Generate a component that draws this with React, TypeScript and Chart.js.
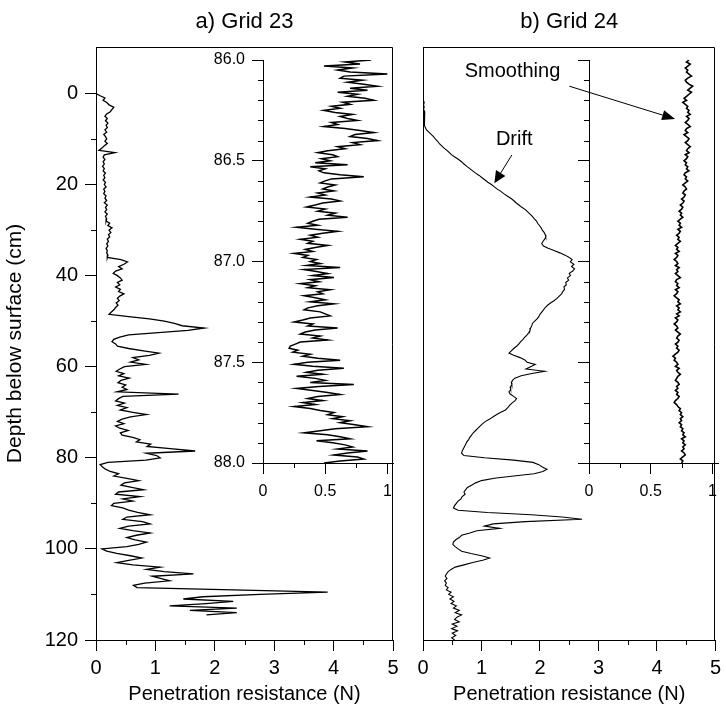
import React, { useEffect, useRef } from 'react';
import { Chart, registerables } from 'chart.js';

Chart.register(...registerables);

const W = 726;
const H = 707;
const FONT = "'Liberation Sans', Arial, Helvetica, sans-serif";

// Depth (cm) sampling of the main profiles
const depthMain = [
  0, 0.5, 1, 1.5, 2, 2.5, 3, 3.5, 4, 4.5, 5, 5.5, 6, 6.5, 7, 7.5, 8, 8.5, 9, 9.5,
  10, 10.5, 11, 11.5, 12, 12.5, 13, 13.5, 14, 14.5, 15, 15.5, 16, 16.5, 17, 17.5, 18, 18.5, 19, 19.5,
  20, 20.5, 21, 21.5, 22, 22.5, 23, 23.5, 24, 24.5, 25, 25.5, 26, 26.5, 27, 27.5, 28, 28.5, 29, 29.5,
  30, 30.5, 31, 31.5, 32, 32.5, 33, 33.5, 34, 34.5, 35, 35.5, 36, 36.5, 37, 37.5, 38, 38.5, 39, 39.5,
  40, 40.5, 41, 41.5, 42, 42.5, 43, 43.5, 44, 44.5, 45, 45.5, 46, 46.5, 47, 47.5, 48, 48.5, 49, 49.5,
  50, 50.5, 51, 51.5, 52, 52.5, 53, 53.5, 54, 54.5, 55, 55.5, 56, 56.5, 57, 57.5, 58, 58.5, 59, 59.5,
  60, 60.5, 61, 61.5, 62, 62.5, 63, 63.5, 64, 64.5, 65, 65.5, 66, 66.5, 67, 67.5, 68, 68.5, 69, 69.5,
  70, 70.5, 71, 71.5, 72, 72.5, 73, 73.5, 74, 74.5, 75, 75.5, 76, 76.5, 77, 77.5, 78, 78.5, 79, 79.5,
  80, 80.5, 81, 81.5, 82, 82.5, 83, 83.5, 84, 84.5, 85, 85.5, 86, 86.5, 87, 87.5, 88, 88.5, 89, 89.5,
  90, 90.5, 91, 91.5, 92, 92.5, 93, 93.5, 94, 94.5, 95, 95.5, 96, 96.5, 97, 97.5, 98, 98.5, 99, 99.5,
  100, 100.5, 101, 101.5, 102, 102.5, 103, 103.5, 104, 104.5, 105, 105.5, 106, 106.5, 107, 107.5, 108, 108.5, 109, 109.5,
  110, 110.5, 111, 111.5, 112, 112.5, 113, 113.5, 114, 114.5, 115, 115.5, 116, 116.5, 117, 117.5, 118, 118.5, 119, 119.5,
  120,
];

// a) Grid 23 penetration resistance (N)
const grid23Main = [
  0.00, 0.07, 0.15, 0.12, 0.18, 0.22, 0.30, 0.27, 0.24, 0.18, 0.15, 0.19, 0.16, 0.20, 0.17, 0.19, 0.15, 0.18, 0.13, 0.16,
  0.18, 0.15, 0.19, 0.14, 0.10, 0.05, 0.32, 0.14, 0.12, 0.15, 0.12, 0.14, 0.11, 0.14, 0.12, 0.16, 0.13, 0.15, 0.12, 0.16,
  0.14, 0.17, 0.13, 0.15, 0.13, 0.17, 0.15, 0.18, 0.14, 0.19, 0.16, 0.18, 0.15, 0.19, 0.16, 0.18, 0.17, 0.23, 0.20, 0.27,
  0.22, 0.25, 0.21, 0.23, 0.19, 0.21, 0.18, 0.20, 0.17, 0.19, 0.18, 0.20, 0.19, 0.42, 0.53, 0.47, 0.38, 0.44, 0.33, 0.29,
  0.36, 0.41, 0.44, 0.36, 0.40, 0.33, 0.41, 0.38, 0.47, 0.40, 0.36, 0.39, 0.34, 0.37, 0.33, 0.30, 0.26, 0.22, 0.55, 0.90,
  1.15, 1.32, 1.45, 1.82, 1.55, 1.05, 0.55, 0.40, 0.30, 0.27, 0.33, 0.36, 0.55, 0.80, 1.06, 0.90, 0.62, 0.72, 0.58, 0.84,
  0.48, 0.40, 0.34, 0.47, 0.38, 0.56, 0.42, 0.37, 0.50, 0.44, 0.52, 0.36, 1.39, 0.45, 0.38, 0.33, 0.48, 0.36, 0.52, 0.41,
  0.62, 0.85, 0.58, 0.44, 0.36, 0.47, 0.33, 0.40, 0.54, 0.41, 0.44, 0.62, 0.74, 0.68, 0.92, 0.86, 1.25, 1.67, 0.85, 1.02,
  1.08, 0.84, 0.20, 0.07, 0.11, 0.16, 0.24, 0.38, 0.30, 0.52, 0.72, 0.48, 0.42, 0.60, 0.80, 0.38, 0.33, 0.74, 0.45, 0.62,
  0.30, 0.26, 0.45, 0.55, 0.70, 0.91, 0.52, 0.45, 0.78, 0.91, 0.55, 0.40, 0.62, 0.91, 0.68, 0.52, 0.66, 0.85, 0.72, 0.52,
  0.10, 0.18, 0.35, 0.58, 0.77, 0.55, 0.35, 0.62, 1.08, 0.85, 1.15, 1.64, 0.95, 1.10, 1.24, 0.82, 0.63, 0.69, 2.31, 3.90,
  2.76, 1.80, 1.47, 2.31, 1.85, 1.24, 2.37, 1.58, 2.37, 1.86,
];

// b) Grid 24 penetration resistance (N) with drift
const grid24Main = [
  0.00, 0.01, 0.00, 0.01, 0.02, 0.01, 0.02, 0.01, 0.03, 0.02, 0.03, 0.02, 0.03, 0.02, 0.03, 0.04, 0.06, 0.10, 0.14, 0.18,
  0.21, 0.25, 0.28, 0.32, 0.36, 0.41, 0.45, 0.49, 0.55, 0.61, 0.66, 0.70, 0.75, 0.80, 0.85, 0.90, 0.96, 1.01, 1.06, 1.11,
  1.17, 1.22, 1.27, 1.33, 1.38, 1.44, 1.50, 1.55, 1.59, 1.64, 1.69, 1.75, 1.79, 1.83, 1.87, 1.90, 1.94, 1.96, 1.99, 2.02,
  2.04, 2.07, 2.09, 2.10, 2.08, 2.05, 2.03, 2.06, 2.14, 2.24, 2.34, 2.43, 2.50, 2.55, 2.52, 2.58, 2.54, 2.59, 2.56, 2.50,
  2.52, 2.47, 2.49, 2.44, 2.45, 2.41, 2.42, 2.39, 2.37, 2.33, 2.29, 2.24, 2.18, 2.13, 2.09, 2.06, 2.03, 2.00, 1.98, 1.95,
  1.91, 1.87, 1.86, 1.84, 1.83, 1.81, 1.78, 1.74, 1.71, 1.67, 1.64, 1.60, 1.55, 1.51, 1.47, 1.55, 1.66, 1.74, 1.78, 1.92,
  1.84, 1.76, 2.08, 1.86, 1.68, 1.57, 1.53, 1.51, 1.52, 1.49, 1.50, 1.47, 1.49, 1.55, 1.60, 1.57, 1.52, 1.48, 1.45, 1.41,
  1.33, 1.26, 1.20, 1.14, 1.07, 1.02, 0.98, 0.94, 0.90, 0.86, 0.83, 0.80, 0.78, 0.75, 0.73, 0.71, 0.69, 0.67, 0.66, 0.70,
  1.05, 1.55, 1.88, 1.98, 2.04, 2.12, 2.05, 1.90, 1.55, 1.22, 1.00, 0.90, 0.83, 0.76, 0.73, 0.70, 0.72, 0.67, 0.65, 0.60,
  0.57, 0.54, 0.52, 0.60, 1.10, 1.85, 2.38, 2.72, 1.75, 1.20, 1.05, 1.31, 0.92, 0.80, 0.66, 0.62, 0.56, 0.52, 0.51, 0.55,
  0.60, 0.66, 0.82, 1.00, 1.14, 1.02, 0.85, 0.70, 0.55, 0.48, 0.43, 0.40, 0.38, 0.41, 0.37, 0.40, 0.38, 0.43, 0.40, 0.48,
  0.44, 0.52, 0.46, 0.53, 0.48, 0.57, 0.52, 0.62, 0.55, 0.66, 0.58, 0.54, 0.62, 0.50, 0.58, 0.49, 0.59, 0.50, 0.56, 0.49,
  0.54,
];

// Depth sampling of the 86-88 cm insets
const depthInset = [
  86.00, 86.01, 86.02, 86.03, 86.04, 86.05, 86.06, 86.07, 86.08, 86.09,
  86.10, 86.11, 86.12, 86.13, 86.14, 86.15, 86.16, 86.17, 86.18, 86.19,
  86.20, 86.21, 86.22, 86.23, 86.24, 86.25, 86.26, 86.27, 86.28, 86.29,
  86.30, 86.31, 86.32, 86.33, 86.34, 86.35, 86.36, 86.37, 86.38, 86.39,
  86.40, 86.41, 86.42, 86.43, 86.44, 86.45, 86.46, 86.47, 86.48, 86.49,
  86.50, 86.51, 86.52, 86.53, 86.54, 86.55, 86.56, 86.57, 86.58, 86.59,
  86.60, 86.61, 86.62, 86.63, 86.64, 86.65, 86.66, 86.67, 86.68, 86.69,
  86.70, 86.71, 86.72, 86.73, 86.74, 86.75, 86.76, 86.77, 86.78, 86.79,
  86.80, 86.81, 86.82, 86.83, 86.84, 86.85, 86.86, 86.87, 86.88, 86.89,
  86.90, 86.91, 86.92, 86.93, 86.94, 86.95, 86.96, 86.97, 86.98, 86.99,
  87.00, 87.01, 87.02, 87.03, 87.04, 87.05, 87.06, 87.07, 87.08, 87.09,
  87.10, 87.11, 87.12, 87.13, 87.14, 87.15, 87.16, 87.17, 87.18, 87.19,
  87.20, 87.21, 87.22, 87.23, 87.24, 87.25, 87.26, 87.27, 87.28, 87.29,
  87.30, 87.31, 87.32, 87.33, 87.34, 87.35, 87.36, 87.37, 87.38, 87.39,
  87.40, 87.41, 87.42, 87.43, 87.44, 87.45, 87.46, 87.47, 87.48, 87.49,
  87.50, 87.51, 87.52, 87.53, 87.54, 87.55, 87.56, 87.57, 87.58, 87.59,
  87.60, 87.61, 87.62, 87.63, 87.64, 87.65, 87.66, 87.67, 87.68, 87.69,
  87.70, 87.71, 87.72, 87.73, 87.74, 87.75, 87.76, 87.77, 87.78, 87.79,
  87.80, 87.81, 87.82, 87.83, 87.84, 87.85, 87.86, 87.87, 87.88, 87.89,
  87.90, 87.91, 87.92, 87.93, 87.94, 87.95, 87.96, 87.97, 87.98, 87.99,
  88.00,
];

const grid23Inset = [
  0.87, 0.66, 0.78, 0.49, 0.72, 0.60, 0.70, 1.00, 0.65, 0.62,
  0.80, 0.68, 0.81, 0.92, 0.70, 0.84, 0.60, 0.76, 0.68, 0.82,
  0.89, 0.64, 0.70, 0.55, 0.62, 0.49, 0.58, 0.72, 0.62, 0.68,
  0.76, 0.55, 0.60, 0.49, 0.66, 0.78, 0.89, 0.74, 0.70, 0.84,
  0.92, 0.72, 0.78, 0.60, 0.66, 0.52, 0.44, 0.56, 0.60, 0.47,
  0.54, 0.42, 0.68, 0.38, 0.50, 0.45, 0.49, 0.62, 0.81, 0.55,
  0.50, 0.46, 0.58, 0.52, 0.48, 0.57, 0.44, 0.50, 0.38, 0.55,
  0.62, 0.48, 0.42, 0.35, 0.50, 0.44, 0.58, 0.52, 0.68, 0.45,
  0.40, 0.36, 0.44, 0.27, 0.42, 0.60, 0.48, 0.38, 0.44, 0.30,
  0.40, 0.36, 0.52, 0.42, 0.34, 0.40, 0.25, 0.36, 0.32, 0.43,
  0.38, 0.46, 0.35, 0.62, 0.33, 0.43, 0.52, 0.40, 0.57, 0.38,
  0.45, 0.30, 0.42, 0.36, 0.54, 0.44, 0.48, 0.33, 0.42, 0.50,
  0.38, 0.57, 0.44, 0.36, 0.33, 0.46, 0.50, 0.54, 0.38, 0.32,
  0.25, 0.40, 0.36, 0.60, 0.42, 0.34, 0.30, 0.46, 0.40, 0.52,
  0.30, 0.26, 0.22, 0.21, 0.28, 0.24, 0.38, 0.32, 0.44, 0.62,
  0.36, 0.25, 0.40, 0.65, 0.44, 0.35, 0.48, 0.27, 0.42, 0.50,
  0.38, 0.73, 0.45, 0.27, 0.40, 0.52, 0.62, 0.44, 0.36, 0.48,
  0.32, 0.42, 0.25, 0.38, 0.46, 0.57, 0.52, 0.64, 0.56, 0.70,
  0.62, 0.74, 0.84, 0.58, 0.46, 0.33, 0.52, 0.62, 0.70, 0.43,
  0.56, 0.66, 0.72, 0.60, 0.84, 0.68, 0.57, 0.76, 0.81, 0.62,
  0.49,
];

const grid24Inset = [
  0.81, 0.79, 0.82, 0.80, 0.78, 0.80, 0.79, 0.81, 0.83, 0.80,
  0.78, 0.79, 0.81, 0.84, 0.82, 0.80, 0.83, 0.81, 0.79, 0.77,
  0.79, 0.76, 0.78, 0.80, 0.79, 0.81, 0.80, 0.82, 0.79, 0.81,
  0.80, 0.78, 0.80, 0.82, 0.79, 0.78, 0.80, 0.77, 0.79, 0.81,
  0.80, 0.78, 0.80, 0.82, 0.80, 0.79, 0.81, 0.78, 0.80, 0.79,
  0.77, 0.79, 0.78, 0.80, 0.79, 0.81, 0.78, 0.77, 0.79, 0.78,
  0.80, 0.78, 0.76, 0.78, 0.79, 0.77, 0.76, 0.78, 0.77, 0.75,
  0.77, 0.76, 0.74, 0.76, 0.75, 0.73, 0.75, 0.74, 0.76, 0.74,
  0.72, 0.74, 0.73, 0.75, 0.72, 0.74, 0.73, 0.71, 0.73, 0.72,
  0.74, 0.72, 0.70, 0.72, 0.71, 0.73, 0.70, 0.72, 0.71, 0.69,
  0.71, 0.72, 0.70, 0.73, 0.71, 0.72, 0.70, 0.72, 0.74, 0.71,
  0.70, 0.72, 0.71, 0.73, 0.70, 0.72, 0.71, 0.69, 0.71, 0.73,
  0.72, 0.74, 0.71, 0.73, 0.72, 0.74, 0.71, 0.73, 0.70, 0.72,
  0.71, 0.69, 0.71, 0.72, 0.70, 0.72, 0.74, 0.72, 0.71, 0.73,
  0.72, 0.70, 0.72, 0.71, 0.73, 0.72, 0.70, 0.68, 0.70, 0.69,
  0.71, 0.72, 0.70, 0.73, 0.71, 0.72, 0.74, 0.72, 0.71, 0.70,
  0.72, 0.73, 0.71, 0.72, 0.70, 0.72, 0.71, 0.73, 0.72, 0.70,
  0.69, 0.71, 0.72, 0.74, 0.73, 0.75, 0.74, 0.76, 0.74, 0.75,
  0.73, 0.75, 0.74, 0.76, 0.75, 0.77, 0.76, 0.78, 0.75, 0.77,
  0.76, 0.78, 0.76, 0.77, 0.75, 0.77, 0.78, 0.76, 0.74, 0.76,
  0.75,
];

// Tick values
const xMajorMain = [0, 1, 2, 3, 4, 5];
const xMinorMain = [0.5, 1.5, 2.5, 3.5, 4.5];
const yMajorMain = [0, 20, 40, 60, 80, 100, 120];
const yMinorMain = [10, 30, 50, 70, 90, 110];
const xMajorInset = [0, 0.5, 1];
const xMinorInset = [0.25, 0.75];
const yMajorInset = [86.0, 86.5, 87.0, 87.5, 88.0];
const yMinorInset = [86.1, 86.2, 86.3, 86.4, 86.6, 86.7, 86.8, 86.9, 87.1, 87.2, 87.3, 87.4, 87.6, 87.7, 87.8, 87.9];

const panelTitles = ['a) Grid 23', 'b) Grid 24'];
const xAxisTitle = 'Penetration resistance (N)';
const yAxisTitle = 'Depth below surface (cm)';

type Spec = {
  depth: number[];
  values: number[];
  box: [number, number, number, number];
  xMin: number; xMax: number; yMin: number; yMax: number;
  xMajor: number[]; xMinor: number[]; yMajor: number[]; yMinor: number[];
  xFmt: (v: number) => string;
  yFmt: ((v: number) => string) | null;
  showYTicks: boolean;
  fontSize: number;
  xPad: number; yPad: number;
  xTitle?: string; yTitle?: string;
  frame: boolean;
  title?: string;
  lineWidth: number;
  extra?: (chart: any) => void;
};

const TICK = 11;
const MINOR = 5;

function arrow(ctx: CanvasRenderingContext2D, x1: number, y1: number, x2: number, y2: number, len: number, half: number) {
  const ang = Math.atan2(y2 - y1, x2 - x1);
  const bx = x2 - len * Math.cos(ang);
  const by = y2 - len * Math.sin(ang);
  ctx.beginPath();
  ctx.moveTo(x1, y1);
  ctx.lineTo(bx, by);
  ctx.stroke();
  ctx.beginPath();
  ctx.moveTo(x2, y2);
  ctx.lineTo(bx + half * Math.sin(ang), by - half * Math.cos(ang));
  ctx.lineTo(bx - half * Math.sin(ang), by + half * Math.cos(ang));
  ctx.closePath();
  ctx.fill();
}

function build(canvas: HTMLCanvasElement, s: Spec) {
  const [L, T, R, B] = s.box;
  const pts = s.values.map((v, i) => ({ x: v, y: s.depth[i] }));
  const font = { family: FONT, size: s.fontSize };
  return new Chart(canvas, {
    type: 'scatter',
    data: {
      datasets: [{
        data: pts,
        showLine: true,
        borderColor: '#000',
        borderWidth: s.lineWidth,
        pointRadius: 0,
        pointHoverRadius: 0,
        tension: 0,
        fill: false,
      }],
    },
    options: {
      responsive: false,
      animation: false,
      devicePixelRatio: 1,
      events: [],
      layout: { padding: { left: 0, top: T, right: W - R, bottom: 0 } },
      plugins: { legend: { display: false }, tooltip: { enabled: false }, title: { display: false } },
      scales: {
        x: {
          type: 'linear',
          position: 'bottom',
          min: s.xMin,
          max: s.xMax,
          afterBuildTicks: (sc: any) => { sc.ticks = s.xMajor.map((value) => ({ value })); },
          afterFit: (sc: any) => { sc.height = H - B; },
          ticks: {
            autoSkip: false, maxRotation: 0, minRotation: 0, padding: s.xPad, color: '#000', font,
            callback: (v: any) => s.xFmt(Number(v)),
          },
          grid: { display: true, drawOnChartArea: false, drawTicks: true, tickLength: TICK, tickColor: '#000', tickWidth: 1 },
          border: { display: true, color: '#000', width: 1 },
          title: s.xTitle
            ? { display: true, text: s.xTitle, color: '#000', font: { family: FONT, size: 20 }, padding: { top: 0, bottom: 1 } }
            : { display: false },
        },
        y: {
          type: 'linear',
          position: 'left',
          reverse: true,
          min: s.yMin,
          max: s.yMax,
          afterBuildTicks: (sc: any) => { sc.ticks = s.showYTicks ? s.yMajor.map((value) => ({ value })) : []; },
          afterFit: (sc: any) => { sc.width = L; },
          ticks: {
            display: !!s.yFmt, autoSkip: false, padding: s.yPad, color: '#000', font,
            callback: (v: any) => (s.yFmt ? s.yFmt(Number(v)) : ''),
          },
          grid: { display: s.showYTicks, drawOnChartArea: false, drawTicks: s.showYTicks, tickLength: TICK, tickColor: '#000', tickWidth: 1 },
          border: { display: true, color: '#000', width: 1 },
          title: s.yTitle
            ? { display: true, text: s.yTitle, color: '#000', font: { family: FONT, size: 21 }, padding: { top: 3, bottom: 0 } }
            : { display: false },
        },
      },
    },
    plugins: [{
      id: 'deco',
      afterDraw(chart: any) {
        const ctx = chart.ctx as CanvasRenderingContext2D;
        const xs = chart.scales.x;
        const ys = chart.scales.y;
        const ca = chart.chartArea;
        ctx.save();
        ctx.strokeStyle = '#000';
        ctx.fillStyle = '#000';
        ctx.lineWidth = 1;
        ctx.beginPath();
        for (const v of s.xMinor) {
          const px = Math.round(xs.getPixelForValue(v)) + 0.5;
          ctx.moveTo(px, ca.bottom);
          ctx.lineTo(px, ca.bottom + MINOR);
        }
        for (const v of s.yMinor) {
          const py = Math.round(ys.getPixelForValue(v)) + 0.5;
          ctx.moveTo(ca.left - MINOR, py);
          ctx.lineTo(ca.left, py);
        }
        ctx.stroke();
        if (s.frame) {
          ctx.beginPath();
          const top = Math.round(ca.top) + 0.5;
          const right = Math.round(ca.right) - 0.5;
          ctx.moveTo(Math.round(ca.left), top);
          ctx.lineTo(right, top);
          ctx.lineTo(right, Math.round(ca.bottom) + 1);
          ctx.stroke();
        }
        if (s.title) {
          ctx.font = `22px ${FONT}`;
          ctx.textAlign = 'center';
          ctx.textBaseline = 'middle';
          ctx.fillText(s.title, (ca.left + ca.right) / 2, 22);
        }
        if (s.extra) s.extra(chart);
        ctx.restore();
      },
    }],
  } as any);
}

// Annotation anchors (in panel b data units: N, cm)
const smoothingLabel = { x: 1.53, y: -4.8 };
const smoothingArrow = { x1: 2.5, y1: -1.6, x2: 4.31, y2: 5.6 };
const driftLabel = { x: 1.56, y: 10.2 };
const driftArrow = { x1: 1.52, y1: 13.5, x2: 1.22, y2: 19.7 };

function annotateB(chart: any) {
  const ctx = chart.ctx as CanvasRenderingContext2D;
  const xs = chart.scales.x;
  const ys = chart.scales.y;
  const px = (v: number) => xs.getPixelForValue(v);
  const py = (v: number) => ys.getPixelForValue(v);
  ctx.font = `20px ${FONT}`;
  ctx.textAlign = 'center';
  ctx.textBaseline = 'middle';
  ctx.fillText('Smoothing', px(smoothingLabel.x), py(smoothingLabel.y));
  ctx.fillText('Drift', px(driftLabel.x), py(driftLabel.y));
  ctx.lineWidth = 1;
  arrow(ctx, px(smoothingArrow.x1), py(smoothingArrow.y1), px(smoothingArrow.x2), py(smoothingArrow.y2), 13, 5);
  arrow(ctx, px(driftArrow.x1), py(driftArrow.y1), px(driftArrow.x2), py(driftArrow.y2), 12, 5.5);
}

const specs: Spec[] = [
  {
    depth: depthMain, values: grid23Main, box: [96, 47, 393, 640],
    xMin: 0, xMax: 5, yMin: -10.2, yMax: 120,
    xMajor: xMajorMain, xMinor: xMinorMain, yMajor: yMajorMain, yMinor: yMinorMain,
    xFmt: (v) => String(v), yFmt: (v) => String(v), showYTicks: true,
    fontSize: 20, xPad: 5, yPad: 7, xTitle: xAxisTitle, yTitle: yAxisTitle,
    frame: true, title: panelTitles[0], lineWidth: 1.3,
  },
  {
    depth: depthMain, values: grid24Main, box: [423, 47, 718, 640],
    xMin: 0, xMax: 5, yMin: -10.2, yMax: 120,
    xMajor: xMajorMain, xMinor: xMinorMain, yMajor: yMajorMain, yMinor: [],
    xFmt: (v) => String(v), yFmt: null, showYTicks: false,
    fontSize: 20, xPad: 5, yPad: 7, xTitle: xAxisTitle,
    frame: true, title: panelTitles[1], lineWidth: 1.1, extra: annotateB,
  },
  {
    depth: depthInset, values: grid23Inset, box: [263, 60, 393, 463],
    xMin: 0, xMax: 1.045, yMin: 86, yMax: 88,
    xMajor: xMajorInset, xMinor: xMinorInset, yMajor: yMajorInset, yMinor: yMinorInset,
    xFmt: (v) => String(v), yFmt: (v) => v.toFixed(1), showYTicks: true,
    fontSize: 16, xPad: 8, yPad: 7, frame: false, lineWidth: 1.5,
  },
  {
    depth: depthInset, values: grid24Inset, box: [589, 60, 718, 463],
    xMin: 0, xMax: 1.045, yMin: 86, yMax: 88,
    xMajor: xMajorInset, xMinor: xMinorInset, yMajor: yMajorInset, yMinor: yMinorInset,
    xFmt: (v) => String(v), yFmt: null, showYTicks: true,
    fontSize: 16, xPad: 8, yPad: 7, frame: false, lineWidth: 1.6,
  },
];

export default function App() {
  const refs = [useRef<HTMLCanvasElement>(null), useRef<HTMLCanvasElement>(null), useRef<HTMLCanvasElement>(null), useRef<HTMLCanvasElement>(null)];
  useEffect(() => {
    const charts = specs.map((s, i) => build(refs[i].current as HTMLCanvasElement, s));
    return () => charts.forEach((c) => c.destroy());
  }, []);
  return (
    <div style={{ position: 'fixed', left: 0, top: 0, width: W, height: H, background: '#fff', overflow: 'hidden' }}>
      {refs.map((r, i) => (
        <canvas key={i} ref={r} width={W} height={H} style={{ position: 'absolute', left: 0, top: 0, width: W, height: H }} />
      ))}
    </div>
  );
}
